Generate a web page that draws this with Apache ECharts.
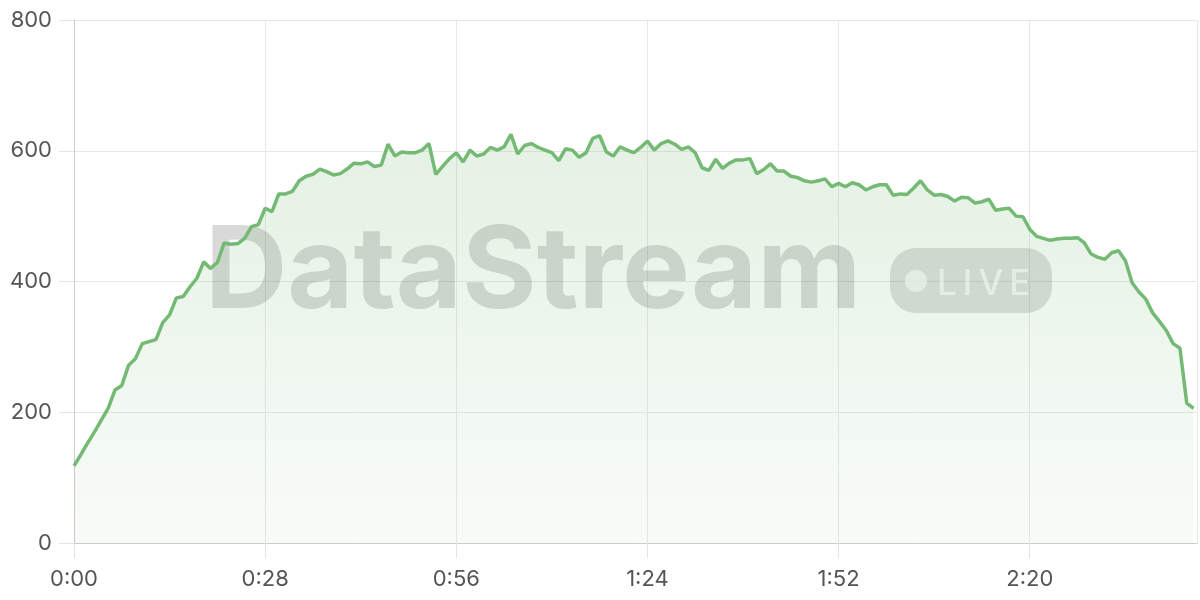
<!DOCTYPE html>
<html><head><meta charset="utf-8">
<script src="https://cdn.jsdelivr.net/npm/echarts@6/dist/echarts.min.js"></script>
<style>html,body{margin:0;padding:0;background:#fff}#c{width:1200px;height:600px}</style>
</head><body><div id="c"></div>
<script>
// elapsed seconds for each sample
const seconds = Array.from({length: 165}, (_, i) => i);
// values
const values = [
118,135,153,170,188,206,234,241,272,282,
305,308,311,337,349,375,377,392,405,430,
420,429,459,457,458,466,484,487,512,507,
534,534,538,554,561,564,572,568,563,565,
572,581,580,583,576,578,610,592,598,597,
597,601,611,564,576,588,597,583,601,592,
595,605,601,606,625,595,608,611,605,601,
597,585,603,601,590,597,619,623,598,592,
606,601,597,605,615,601,611,615,610,602,
606,597,574,570,587,573,581,586,586,588,
565,571,580,569,569,561,559,554,552,554,
557,545,550,545,551,548,540,545,548,548,
532,534,533,543,554,540,532,533,530,523,
529,528,520,522,526,509,511,512,500,499,
480,469,466,463,465,466,466,467,459,442,
437,434,444,447,432,398,384,373,352,339,
325,305,298,214,206
];
const yTicks = [0, 200, 400, 600, 800];
const xTickStep = 28;
const watermarkText = 'DataStream';
const badgeText = 'L\u2009I\u2009V\u2009E';

function fmt(s){ const m = Math.floor(s/60); const r = Math.round(s%60); return m + ':' + (r<10?'0':'') + r; }

const chart = echarts.init(document.getElementById('c'), null, {renderer:'canvas'});
chart.setOption({
  animation: false,
  backgroundColor: '#ffffff',
  grid: {left: 74, right: 3, top: 20, bottom: 57, containLabel: false},
  xAxis: {
    type: 'value', min: 0, max: 164.5, interval: xTickStep,
    axisLine: {show: true, lineStyle: {color: '#cccccc', width: 1}},
    axisTick: {show: true, length: 15, lineStyle: {color: '#e4e4e4'}},
    splitLine: {show: true, lineStyle: {color: '#e8e8e8', width: 1}},
    axisLabel: {formatter: v => fmt(v), color: '#555', fontSize: 22, fontFamily: 'Inter', margin: 25, showMaxLabel: false}
  },
  yAxis: {
    type: 'value', min: yTicks[0], max: yTicks[yTicks.length-1], interval: 200,
    axisLine: {show: true, lineStyle: {color: '#cccccc', width: 1}},
    axisTick: {show: true, length: 15, lineStyle: {color: '#e4e4e4'}},
    splitLine: {show: true, lineStyle: {color: '#e8e8e8', width: 1}},
    axisLabel: {color: '#555', fontSize: 22, fontFamily: 'Inter', margin: 22}
  },
  graphic: [
    {type: 'text', z: 1, style: {text: watermarkText, x: 205, y: 274, fill: 'rgba(0,0,0,0.15)', font: 'bold 114px Inter', textVerticalAlign: 'middle'}, silent: true},
    {type: 'rect', z: 1, shape: {x: 890, y: 248, width: 162, height: 65, r: 26}, style: {fill: 'rgba(0,0,0,0.13)'}, silent: true},
    {type: 'circle', z: 1, shape: {cx: 916, cy: 281, r: 11}, style: {fill: 'rgba(255,255,255,0.7)'}, silent: true},
    {type: 'text', z: 1, style: {text: badgeText, x: 937, y: 284, fill: 'rgba(255,255,255,0.72)', font: '500 35px Inter', textVerticalAlign: 'middle'}, silent: true}
  ],
  series: [{
    type: 'line',
    data: seconds.map((s, i) => [s, values[i]]),
    showSymbol: false,
    smooth: false,
    z: 3,
    lineStyle: {color: '#74b974', width: 3.5},
    areaStyle: {color: new echarts.graphic.LinearGradient(0, 0, 0, 1, [
      {offset: 0, color: 'rgba(116,185,116,0.28)'},
      {offset: 1, color: 'rgba(116,185,116,0.07)'}
    ])}
  }]
});
</script></body></html>
